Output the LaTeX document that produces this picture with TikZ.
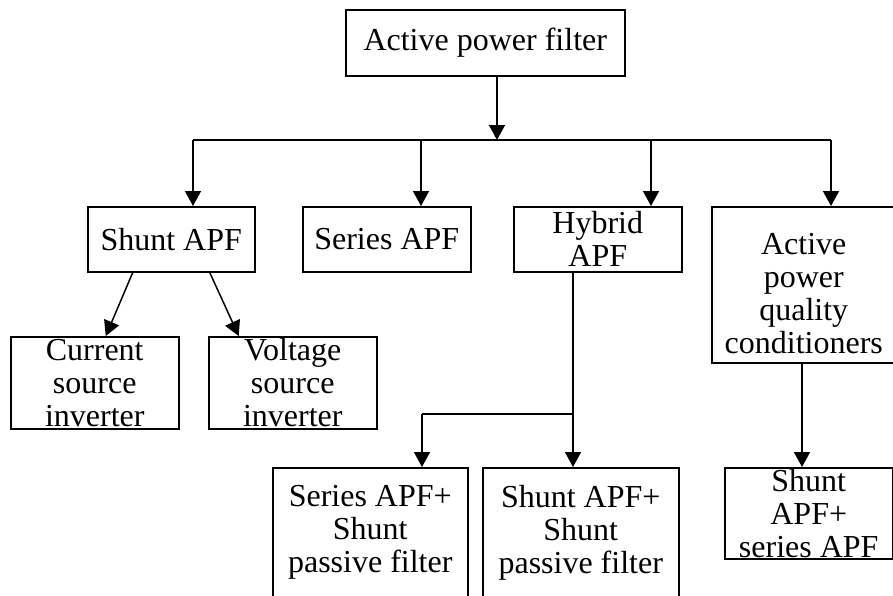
\documentclass[tikz,border=0pt]{standalone}
\usepackage{fontspec}
\setmainfont{Liberation Serif}
\usetikzlibrary{arrows.meta}
\begin{document}
\begin{tikzpicture}[x=1pt,y=-1pt,
  box/.style={draw,line width=1.5pt,inner sep=0pt,anchor=north west,align=center,
    font=\fontsize{32}{33}\selectfont},
  txt/.style={inner sep=0pt,align=center,font=\fontsize{32}{33}\selectfont},
  link/.style={line width=1.5pt},
  arr/.style={line width=1.5pt,-{Triangle[length=15pt,width=16pt]}}]
\clip (0,0) rectangle (893,595);
\fill[white] (0,0) rectangle (893,595);

% root
\node[box,minimum width=279pt,minimum height=66pt] (apf) at (345,9) {Active power filter};

% second level
\node[box,minimum width=167pt,minimum height=65pt] (shunt) at (87,206) {Shunt APF};
\node[box,minimum width=168pt,minimum height=65pt] (series) at (302,206) {Series APF};
\node[box,minimum width=168pt,minimum height=65pt] (hybrid) at (513,206) {Hybrid\\APF};
\node[box,minimum width=184pt,minimum height=156pt] (apqc) at (711,206) {};
\node[txt] (apqctext) at ([yshift=-9pt]apqc.center) {Active\\power\\quality\\conditioners};

% shunt APF types
\node[box,minimum width=168pt,minimum height=92pt] (csi) at (10,336) {Current\\source\\inverter};
\node[box,minimum width=168pt,minimum height=92pt] (vsi) at (208,336) {Voltage\\source\\inverter};

% hybrid APF types
\node[box,minimum width=195pt,minimum height=130pt] (hyb1) at (272,467) {Series APF+\\Shunt\\passive filter};
\node[box,minimum width=196pt,minimum height=130pt] (hyb2) at (482,467) {Shunt APF+\\Shunt\\passive filter};

% unified conditioner
\node[box,minimum width=168pt,minimum height=91pt] (upqc) at (724,467) {Shunt\\APF+\\series APF};

% root to the bus
\coordinate (bus) at (497,140);
\coordinate (busL) at (193,140);
\coordinate (busR) at (831,140);
\draw[arr] (apf.south -| bus) -- (bus);
\draw[link] (busL) -- (busR);
\draw[arr] (busL) -- (busL |- shunt.north);
\draw[arr] (busL -| 421,0) -- (series.north -| 421,0);
\draw[arr] (busL -| 651,0) -- (hybrid.north -| 651,0);
\draw[arr] (busR) -- (busR |- apqc.north);

% shunt APF branches
\draw[arr] ([xshift=-38.5pt]shunt.south) -- ([xshift=11pt]csi.north);
\draw[arr] ([xshift=38.5pt]shunt.south) -- ([xshift=-54pt]vsi.north);

% hybrid APF branches
\coordinate (hj) at (573,414);
\coordinate (hjL) at (422,414);
\draw[link] (hybrid.south -| hj) -- (hj) -- (hjL);
\draw[arr] (hj) -- (hj |- hyb2.north);
\draw[arr] (hjL) -- (hjL |- hyb1.north);

% conditioner branch
\draw[arr] (apqc.south -| 802,0) -- (upqc.north -| 802,0);
\end{tikzpicture}
\end{document}
